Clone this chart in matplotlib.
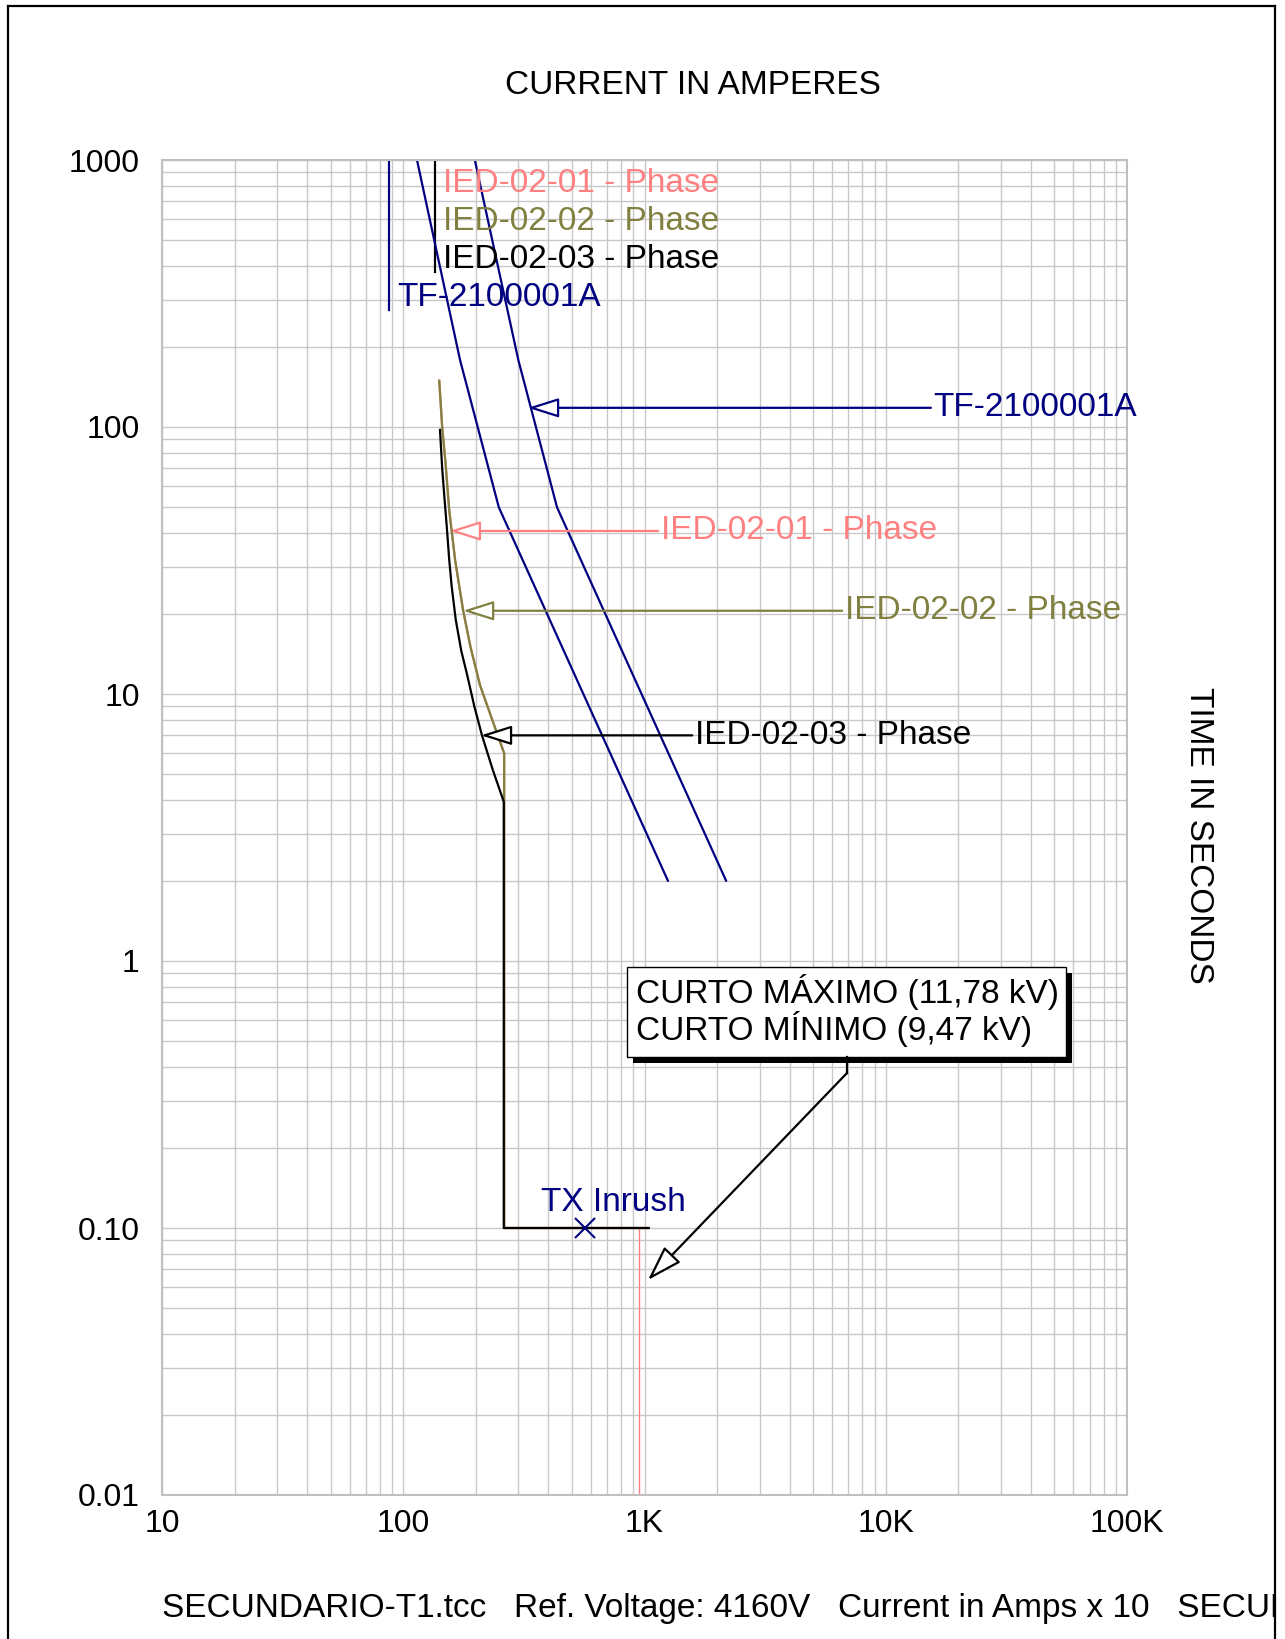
import matplotlib
matplotlib.use('Agg')
import matplotlib.pyplot as plt
from matplotlib.patches import Rectangle
from matplotlib.lines import Line2D
from matplotlib.ticker import FixedLocator, FixedFormatter, NullFormatter, LogLocator

plt.rcParams['font.family'] = ['Liberation Sans', 'DejaVu Sans']

### data (amps, seconds)
# transformer damage curves TF-2100001A
tf1_amps = [114, 172, 249, 1250]
tf1_secs = [1000, 178, 50, 2.0]
tf2_amps = [198, 300, 434, 2178]
tf2_secs = [1000, 178, 50, 2.0]
tf_limit_amps = [87, 87]
tf_limit_secs = [1000, 274]

# relay curves
ied01_amps = [141, 145, 149.4, 155, 164, 177, 190, 208, 235, 262, 262, 1040]
ied01_secs = [149, 100, 75, 49, 31.8, 20.6, 15.0, 10.8, 7.9, 6.0, 0.1, 0.1]
ied01_inst_amps = [950, 950]
ied01_inst_secs = [0.1, 0.01]

ied02_amps = [141, 145, 149.4, 155, 164, 177, 190, 208, 235, 262, 262, 1040]
ied02_secs = [149, 100, 75, 49, 31.8, 20.6, 15.0, 10.8, 7.9, 6.0, 0.1, 0.1]

ied03_amps = [142, 145, 148, 152, 155, 158.6, 165, 174, 184, 197, 212, 235, 261, 261, 1040]
ied03_secs = [97.5, 70, 55, 40.7, 32, 25.5, 19, 14.5, 11.8, 9.0, 7.0, 5.2, 3.95, 0.1, 0.1]
ied03_top_amps = [135, 135]
ied03_top_secs = [1000, 380]

inrush_amps = [566]
inrush_secs = [0.1]

x_ticks = [10, 100, 1000, 10000, 100000]
x_labels = ['10', '100', '1K', '10K', '100K']
y_ticks = [0.01, 0.1, 1, 10, 100, 1000]
y_labels = ['0.01', '0.10', '1', '10', '100', '1000']

navy = '#000080'
pink = '#FF8080'
olive = '#808040'
W, H = 1285, 1639
FS = 24


def fp(x, y):
    # pixel (from top-left) -> figure fraction
    return x / W, 1 - y / H


fig = plt.figure(figsize=(W / 100, H / 100), dpi=100)
ax = fig.add_axes([162 / W, 1 - 1495 / H, (1127 - 162) / W, (1495 - 160) / H])
ax.set_xscale('log')
ax.set_yscale('log')
ax.set_xlim(10, 100000)
ax.set_ylim(0.01, 1000)

ax.xaxis.set_major_locator(FixedLocator(x_ticks))
ax.xaxis.set_major_formatter(FixedFormatter(x_labels))
ax.yaxis.set_major_locator(FixedLocator(y_ticks))
ax.yaxis.set_major_formatter(FixedFormatter(y_labels))
ax.xaxis.set_minor_locator(LogLocator(base=10, subs=range(2, 10), numticks=20))
ax.yaxis.set_minor_locator(LogLocator(base=10, subs=range(2, 10), numticks=20))
ax.xaxis.set_minor_formatter(NullFormatter())
ax.yaxis.set_minor_formatter(NullFormatter())
ax.tick_params(which='both', length=0)
ax.tick_params(axis='x', labelsize=23, pad=10)
ax.tick_params(axis='y', labelsize=23, pad=16)
ax.grid(True, which='both', color='#C8C8C8', lw=1.0)
ax.set_axisbelow(True)
for s in ax.spines.values():
    s.set_color('#C0C0C0')
    s.set_linewidth(1.5)

# curves
ax.plot(ied01_amps, ied01_secs, color=pink, lw=1.6)
ax.plot(ied01_inst_amps, ied01_inst_secs, color=pink, lw=1.0)
ax.plot(ied02_amps, ied02_secs, color=olive, lw=1.6)
ax.plot(ied03_amps, ied03_secs, color='black', lw=1.6)
ax.plot(ied03_top_amps, ied03_top_secs, color='black', lw=1.6)
ax.plot(tf1_amps, tf1_secs, color=navy, lw=1.6)
ax.plot(tf2_amps, tf2_secs, color=navy, lw=1.6)
ax.plot(tf_limit_amps, tf_limit_secs, color=navy, lw=1.6)
ax.plot(inrush_amps, inrush_secs, marker='x', ms=15, mew=1.5, color=navy, ls='none')

# labels at the top of the curves
ax.text(146, 759, 'IED-02-01 - Phase', color=pink, fontsize=FS, va='baseline')
ax.text(146, 547, 'IED-02-02 - Phase', color=olive, fontsize=FS, va='baseline')
ax.text(146, 394, 'IED-02-03 - Phase', color='black', fontsize=FS, va='baseline')
ax.text(94, 284, 'TF-2100001A', color=navy, fontsize=FS, va='baseline')

# arrow labels
arrows = [
    ('TF-2100001A', (329, 118), (15800, 118), navy),
    ('IED-02-01 - Phase', (156, 40.8), (1170, 40.8), pink),
    ('IED-02-02 - Phase', (177, 20.5), (6770, 20.5), olive),
    ('IED-02-03 - Phase', (210, 7.0), (1620, 7.0), 'black'),
]
for lab, tip, start, col in arrows:
    ax.annotate(lab, xy=tip, xytext=start, color=col, fontsize=FS,
                ha='left', va='center',
                arrowprops=dict(arrowstyle='-|>,head_length=1.9,head_width=0.6',
                                mutation_scale=10, fc='white', ec=col, lw=1.6,
                                shrinkA=0, shrinkB=0))

# TX inrush label
fig.text(*fp(541, 1211), 'TX Inrush', color=navy, fontsize=FS, va='baseline')

# short circuit box with shadow
bx0, by0, bx1, by1 = 627, 967, 1066, 1057
fig.add_artist(Rectangle(fp(bx0 + 6, by1 + 6), (bx1 - bx0) / W, (by1 - by0) / H,
                         transform=fig.transFigure, fc='black', ec='black', lw=0))
fig.add_artist(Rectangle(fp(bx0, by1), (bx1 - bx0) / W, (by1 - by0) / H,
                         transform=fig.transFigure, fc='white', ec='black', lw=1.0))
fig.text(*fp(636, 1003), 'CURTO MÁXIMO (11,78 kV)', fontsize=FS, va='baseline')
fig.text(*fp(636, 1040), 'CURTO MÍNIMO (9,47 kV)', fontsize=FS, va='baseline')
fig.add_artist(Line2D([847 / W, 847 / W], [1 - 1057 / H, 1 - 1073 / H],
                      transform=fig.transFigure, color='black', lw=1.6))
ax.annotate('', xy=fp(648, 1280), xytext=fp(847, 1073),
            xycoords='figure fraction', textcoords='figure fraction',
            arrowprops=dict(arrowstyle='-|>,head_length=2.2,head_width=0.7',
                            mutation_scale=10, fc='white', ec='black', lw=1.6,
                            shrinkA=0, shrinkB=0))

# axis titles
fig.text(693 / W, 1 - 85 / H, 'CURRENT IN AMPERES', fontsize=FS, ha='center', va='center')
fig.text(1199 / W, 1 - 835 / H, 'TIME IN SECONDS', fontsize=FS, ha='center', va='center',
         rotation=-90)

# footer, cut at the page border like the original printout
foot = fig.text(162 / W, 1 - 1617 / H,
                'SECUNDARIO-T1.tcc   Ref. Voltage: 4160V   Current in Amps x 10   SECUNDARIO-T1.drw',
                fontsize=FS, va='baseline')
clip = Rectangle((0, 0), 1274 / W, 1, transform=fig.transFigure, fc='none', ec='none')
fig.add_artist(clip)
foot.set_clip_on(True)
foot.set_clip_path(clip)

# page border
for xs, ys in [([8, 8], [6, H]), ([8, 1275], [6, 6]), ([1275, 1275], [6, H])]:
    fig.add_artist(Line2D([v / W for v in xs], [1 - v / H for v in ys],
                          transform=fig.transFigure, color='black', lw=1.6))

fig.savefig('out.png', dpi=100)
